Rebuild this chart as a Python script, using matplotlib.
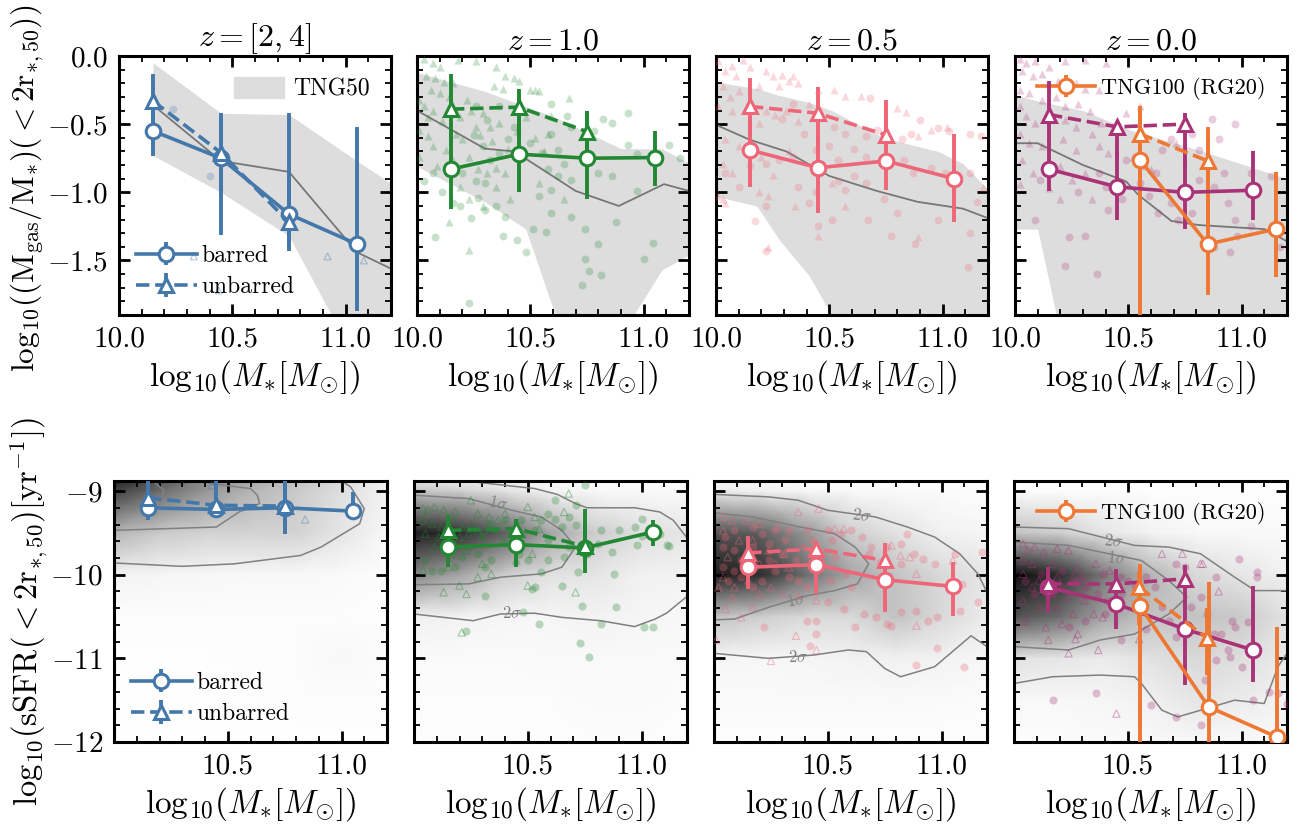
import numpy as np
import matplotlib
matplotlib.use('Agg')
import matplotlib.pyplot as plt
from matplotlib.patches import Patch

plt.rcParams['font.family'] = 'serif'
plt.rcParams['font.serif'] = ['cmr10']
plt.rcParams['mathtext.fontset'] = 'cm'
plt.rcParams['axes.formatter.use_mathtext'] = True

BLUE, GREEN, RED, PURPLE, ORANGE = '#4477AA', '#228833', '#EE6677', '#AA3377', '#EE7733'
colors = [BLUE, GREEN, RED, PURPLE]
titles = [r'$z=[2,4]$', r'$z=1.0$', r'$z=0.5$', r'$z=0.0$']

# ---------------- medians (barred / unbarred), gas fraction ----------------
bin_x = [10.15, 10.45, 10.75, 11.05]
unb_x = [10.15, 10.45, 10.75]

gas_bar_y = [[-0.55, -0.75, -1.16, -1.38], [-0.83, -0.72, -0.75, -0.745],
             [-0.69, -0.82, -0.77, -0.90], [-0.83, -0.96, -1.00, -0.985]]
gas_bar_lo = [[-0.73, -1.31, -1.43, -1.87], [-1.12, -1.00, -1.05, -0.95],
              [-0.96, -1.15, -0.98, -1.22], [-0.99, -1.20, -1.27, -1.20]]
gas_bar_hi = [[-0.38, -0.42, -0.415, -0.52], [-0.56, -0.24, -0.40, -0.55],
              [-0.40, -0.55, -0.45, -0.57], [-0.60, -0.70, -0.75, -0.70]]
gas_unb_y = [[-0.33, -0.71, -1.22], [-0.39, -0.375, -0.555],
             [-0.37, -0.42, -0.58], [-0.43, -0.52, -0.50]]
gas_unb_lo = [[-0.60, -1.00, -1.40], [-0.62, -0.61, -0.70],
              [-0.59, -0.70, -0.72], [-0.60, -0.74, -0.80]]
gas_unb_hi = [[-0.13, -0.45, -0.90], [-0.13, -0.30, -0.40],
              [-0.16, -0.23, -0.32], [-0.18, -0.49, -0.42]]

# TNG100 (RG20), z=0
rg_x = [10.55, 10.85, 11.15]
rg_unb_x = [10.55, 10.85]
rg_gas_y, rg_gas_lo, rg_gas_hi = [-0.76, -1.38, -1.27], [-1.95, -1.75, -1.62], [-0.37, -0.52, -0.85]
rg_gas_unb_y, rg_gas_unb_lo, rg_gas_unb_hi = [-0.57, -0.77], [-0.90, -1.30], [-0.40, -0.55]

# TNG50 band and median per redshift
band_x = [[10.15, 10.45, 10.75, 11.05, 11.35],
          [10.0, 10.3, 10.48, 10.61, 10.9, 11.08, 11.2],
          [10.0, 10.18, 10.28, 10.41, 10.51, 10.74, 10.98, 11.09, 11.2],
          [10.0, 10.1, 10.3, 10.52, 10.75, 10.81, 11.2]]
band_hi = [[-0.05, -0.42, -0.43, -0.77, -1.1],
           [-0.12, -0.26, -0.37, -0.45, -0.68, -0.68, -0.785],
           [-0.19, -0.24, -0.29, -0.34, -0.40, -0.60, -0.70, -0.79, -0.98],
           [-0.285, -0.33, -0.40, -0.55, -0.66, -0.69, -0.90]]
band_lo = [[-0.73, -1.0, -1.32, -2.25, -2.5],
           [-0.81, -1.07, -1.27, -1.9, -2.05, -1.57, -1.46],
           [-1.03, -1.10, -1.35, -1.61, -1.9, -2.3, -2.5, -2.5, -2.5],
           [-1.27, -1.27, -2.8, -2.8, -2.8, -2.8, -2.8]]
tng_med_x = [[10.15, 10.45, 10.75, 11.05, 11.35],
             [10.0, 10.3, 10.43, 10.7, 10.89, 11.09, 11.2],
             [10.0, 10.15, 10.31, 10.5, 10.71, 10.89, 11.09, 11.2],
             [10.0, 10.1, 10.3, 10.49, 10.545, 10.69, 10.81, 11.10, 11.2]]
tng_med_y = [[-0.36, -0.77, -0.85, -1.44, -1.68],
             [-0.40, -0.68, -0.70, -0.99, -1.10, -0.94, -0.99],
             [-0.505, -0.615, -0.70, -0.88, -0.99, -1.07, -1.12, -1.19],
             [-0.64, -0.64, -0.80, -0.92, -1.02, -1.21, -1.24, -1.27, -1.36]]

# individual galaxies, gas fraction (x, y)
gas_circ = [
    [(10.24, -0.39), (10.40, -0.88)],
    [(10.08, -1.33), (10.23, -1.81), (10.24, -1.19), (10.19, -1.10), (10.27, -1.04), (10.30, -1.13),
     (10.35, -1.10), (10.39, -1.18), (10.38, -1.32), (10.44, -1.35), (10.48, -1.44), (10.51, -1.27),
     (10.57, -1.29), (10.59, -1.15), (10.68, -1.18), (10.74, -1.27), (10.80, -1.38), (10.74, -1.49),
     (10.76, -1.58), (10.81, -1.61), (10.73, -1.68), (10.88, -1.22), (11.00, -1.49), (11.04, -1.37),
     (10.97, -0.99), (10.93, -0.42), (10.82, -0.46), (10.78, -0.55), (10.86, -0.49), (10.93, -0.65),
     (10.97, -0.72), (11.11, -0.65), (11.16, -0.75), (10.59, -0.35), (10.66, -0.44), (10.68, -0.52),
     (10.59, -0.57), (10.50, -0.64), (10.55, -0.71), (10.62, -0.69), (10.65, -0.79), (10.58, -0.83),
     (10.62, -0.88), (10.68, -0.91), (10.80, -0.86), (10.86, -0.88), (10.54, -1.03), (10.59, -0.98),
     (10.32, -0.76), (10.36, -0.71), (10.29, -0.66), (10.40, -0.61), (10.43, -0.52), (10.26, -0.92),
     (10.30, -0.93), (10.11, -1.00), (10.16, -1.08), (10.07, -0.86), (10.03, -0.92), (10.20, -0.86),
     (10.25, -0.58), (10.31, -0.47), (10.26, -0.37), (10.36, -0.37)],
    [(10.29, -0.46), (10.34, -0.35), (10.39, -0.57), (10.52, -0.52), (10.57, -0.57), (10.66, -0.59),
     (10.68, -0.31), (10.71, -0.54), (10.82, -0.61), (10.86, -0.57), (10.90, -0.47), (10.98, -0.53),
     (11.03, -0.55), (11.12, -0.57), (11.17, -0.59), (10.61, -0.68), (10.66, -0.74), (10.54, -0.76),
     (10.50, -0.66), (10.44, -0.69), (10.34, -0.74), (10.28, -0.76), (10.22, -0.79), (10.15, -0.81),
     (10.10, -0.96), (10.04, -0.86), (10.54, -0.92), (10.57, -0.98), (10.66, -0.93), (10.61, -0.88),
     (10.83, -0.76), (10.87, -0.86), (10.95, -0.82), (11.01, -0.86), (11.12, -0.86), (11.15, -1.07),
     (10.98, -1.20), (11.12, -1.30), (11.11, -1.55), (10.88, -1.38), (10.77, -1.32), (10.67, -1.20),
     (10.51, -1.20), (10.45, -1.25), (10.41, -1.08), (10.22, -1.10), (10.17, -1.21), (10.22, -1.43),
     (10.36, -0.96), (10.44, -1.00), (10.74, -1.05), (10.80, -1.15)],
    [(10.09, -1.20), (10.24, -1.33), (10.31, -1.32), (10.36, -1.60), (10.22, -1.54), (10.41, -1.13),
     (10.47, -1.05), (10.55, -0.93), (10.62, -0.86), (10.65, -0.69), (10.69, -0.61), (10.78, -0.57),
     (10.87, -0.46), (10.97, -0.50), (10.90, -0.61), (10.81, -0.69), (10.59, -1.03), (10.69, -1.08),
     (10.63, -1.15), (10.72, -1.20), (10.78, -1.15), (10.94, -1.08), (10.88, -0.96), (10.97, -1.20),
     (11.04, -1.25), (10.98, -1.32), (10.88, -1.40), (10.95, -1.44), (10.92, -0.86), (11.04, -0.86),
     (11.13, -0.88), (11.17, -1.40), (10.11, -0.91), (10.28, -1.00), (10.40, -0.96), (10.49, -0.76),
     (10.57, -0.81), (10.37, -0.86), (10.81, -0.91)],
]
gas_tri = [
    [(10.33, -1.47), (10.44, -1.72), (10.92, -1.47), (11.08, -1.50)],
    [(10.03, -0.02), (10.07, -0.05), (10.10, -0.08), (10.18, -0.03), (10.26, -0.04), (10.35, -0.08),
     (10.39, -0.15), (10.43, -0.16), (10.45, -0.18), (10.04, -0.15), (10.08, -0.16), (10.12, -0.19),
     (10.16, -0.20), (10.06, -0.25), (10.10, -0.27), (10.14, -0.30), (10.01, -0.32), (10.03, -0.37),
     (10.07, -0.40), (10.22, -0.32), (10.24, -0.40), (10.34, -0.22), (10.38, -0.24), (10.50, -0.25),
     (10.52, -0.25), (10.54, -0.26), (10.29, -0.42), (10.32, -0.52), (10.36, -0.49), (10.26, -0.52),
     (10.17, -0.57), (10.20, -0.61), (10.13, -0.69), (10.16, -0.76), (10.23, -0.74), (10.27, -0.83),
     (10.31, -0.86), (10.35, -0.82), (10.39, -0.86), (10.54, -0.93), (10.67, -0.31), (10.59, -0.44),
     (10.58, -0.57), (10.19, -0.96), (10.23, -1.05), (10.14, -1.22), (10.23, -1.42), (10.29, -1.10),
     (10.65, -1.05), (10.05, -0.59), (10.01, -0.54), (10.07, -0.66), (10.09, -0.81), (10.01, -0.74),
     (10.35, -0.96), (10.41, -1.05), (10.05, -0.45), (10.11, -0.48), (10.19, -0.45), (10.28, -0.58),
     (10.33, -0.62), (10.40, -0.68), (10.44, -0.55), (10.48, -0.45), (10.52, -0.60), (10.56, -0.70)],
    [(10.01, -0.04), (10.07, -0.07), (10.12, -0.03), (10.15, -0.08), (10.22, -0.11), (10.25, -0.15),
     (10.29, -0.14), (10.32, -0.18), (10.34, -0.15), (10.04, -0.11), (10.09, -0.15), (10.03, -0.22),
     (10.06, -0.30), (10.10, -0.26), (10.19, -0.22), (10.28, -0.22), (10.36, -0.20), (10.01, -0.37),
     (10.07, -0.40), (10.22, -0.40), (10.26, -0.43), (10.31, -0.40), (10.36, -0.48), (10.41, -0.35),
     (10.45, -0.25), (10.52, -0.25), (10.57, -0.29), (10.64, -0.29), (10.80, -0.38), (10.84, -0.41),
     (10.95, -0.54), (10.89, -0.59), (11.02, -0.52), (10.19, -0.49), (10.04, -0.61), (10.10, -0.66),
     (10.03, -0.79), (10.07, -0.86), (10.20, -0.74), (10.32, -0.70), (10.25, -0.87), (10.19, -1.00),
     (10.23, -1.03), (10.01, -1.03), (10.04, -1.08), (10.03, -1.05), (10.35, -1.10), (10.51, -0.93),
     (10.57, -1.10), (10.45, -1.32), (10.23, -1.40), (10.89, -1.33), (11.18, -0.96)],
    [(10.02, -0.02), (10.05, -0.05), (10.09, -0.04), (10.15, -0.08), (10.22, -0.04), (10.31, -0.03),
     (10.40, -0.05), (10.03, -0.11), (10.08, -0.15), (10.12, -0.13), (10.19, -0.18), (10.27, -0.20),
     (10.31, -0.24), (10.37, -0.25), (10.02, -0.25), (10.06, -0.27), (10.12, -0.32), (10.18, -0.30),
     (10.22, -0.37), (10.28, -0.35), (10.33, -0.40), (10.02, -0.37), (10.05, -0.44), (10.09, -0.49),
     (10.22, -0.47), (10.27, -0.52), (10.34, -0.57), (10.38, -0.49), (10.49, -0.42), (10.55, -0.37),
     (10.02, -0.57), (10.06, -0.64), (10.12, -0.66), (10.21, -0.61), (10.27, -0.69), (10.37, -0.66),
     (10.41, -0.71), (10.52, -0.74), (10.03, -0.76), (10.08, -0.86), (10.20, -0.81), (10.25, -0.91),
     (10.31, -0.86), (10.02, -0.94), (10.20, -1.05), (10.15, -0.97), (10.60, -0.83), (10.71, -0.64),
     (10.34, -1.05)],
]

# ---------------- medians, sSFR ----------------
sfr_bar_y = [[-9.20, -9.22, -9.20, -9.24], [-9.67, -9.64, -9.68, -9.49],
             [-9.91, -9.88, -10.06, -10.14], [-10.15, -10.35, -10.65, -10.90]]
sfr_bar_lo = [[-9.35, -9.30, -9.51, -9.35], [-9.91, -9.91, -9.98, -9.66],
              [-10.17, -10.23, -10.45, -10.49], [-10.45, -10.65, -11.32, -11.28]]
sfr_bar_hi = [[-8.95, -8.85, -8.85, -9.01], [-9.45, -9.35, -9.21, -9.35],
              [-9.70, -9.65, -9.80, -9.85], [-9.95, -10.10, -10.30, -10.13]]
sfr_unb_y = [[-9.08, -9.17, -9.18], [-9.47, -9.45, -9.66],
             [-9.74, -9.69, -9.83], [-10.11, -10.11, -10.05]]
sfr_unb_lo = [[-9.25, -9.28, -9.40], [-9.70, -9.62, -9.85],
              [-9.95, -9.90, -10.00], [-10.30, -10.30, -10.40]]
sfr_unb_hi = [[-8.85, -8.85, -8.85], [-9.29, -9.33, -9.40],
              [-9.54, -9.60, -9.62], [-9.91, -9.93, -9.88]]
rg_sfr_x = [10.555, 10.855, 11.155]
rg_sfr_y, rg_sfr_lo, rg_sfr_hi = [-10.38, -11.58, -11.94], [-12.5, -12.5, -12.5], [-9.87, -10.09, -10.63]
rg_sfr_unb_y, rg_sfr_unb_lo, rg_sfr_unb_hi = [-10.15, -10.76], [-10.60, -11.20], [-9.95, -10.40]

# TNG50 population density (grey shading) on a coarse grid
dens_x = [10.0, 10.2, 10.4, 10.6, 10.8, 11.0, 11.2]
dens_y = [-12.0, -11.5, -11.0, -10.5, -10.0, -9.5, -9.0, -8.85]
dens = [
    [[0.01, 0.01, 0.01, 0.01, 0.01, 0.01, 0.01],
     [0.01, 0.01, 0.01, 0.01, 0.02, 0.03, 0.02],
     [0.01, 0.01, 0.01, 0.02, 0.03, 0.06, 0.03],
     [0.03, 0.03, 0.03, 0.03, 0.03, 0.03, 0.02],
     [0.10, 0.08, 0.07, 0.06, 0.06, 0.04, 0.02],
     [0.40, 0.32, 0.28, 0.28, 0.28, 0.18, 0.06],
     [0.80, 0.65, 0.50, 0.40, 0.32, 0.22, 0.10],
     [0.90, 0.75, 0.55, 0.45, 0.35, 0.25, 0.10]],
    [[0.02, 0.02, 0.02, 0.02, 0.03, 0.03, 0.02],
     [0.03, 0.03, 0.03, 0.03, 0.04, 0.04, 0.03],
     [0.04, 0.04, 0.04, 0.05, 0.05, 0.05, 0.04],
     [0.12, 0.10, 0.08, 0.08, 0.10, 0.08, 0.06],
     [0.55, 0.45, 0.30, 0.20, 0.18, 0.12, 0.10],
     [0.90, 0.85, 0.70, 0.45, 0.30, 0.22, 0.18],
     [0.35, 0.30, 0.20, 0.10, 0.06, 0.05, 0.04],
     [0.15, 0.12, 0.08, 0.05, 0.03, 0.02, 0.02]],
    [[0.02, 0.02, 0.02, 0.02, 0.02, 0.02, 0.02],
     [0.04, 0.04, 0.05, 0.05, 0.05, 0.04, 0.03],
     [0.08, 0.07, 0.08, 0.10, 0.12, 0.10, 0.06],
     [0.35, 0.30, 0.25, 0.25, 0.35, 0.25, 0.15],
     [0.90, 0.85, 0.65, 0.45, 0.35, 0.25, 0.18],
     [0.75, 0.70, 0.50, 0.30, 0.20, 0.12, 0.08],
     [0.15, 0.12, 0.08, 0.05, 0.04, 0.03, 0.02],
     [0.05, 0.04, 0.03, 0.02, 0.02, 0.02, 0.02]],
    [[0.03, 0.03, 0.04, 0.05, 0.06, 0.05, 0.04],
     [0.06, 0.06, 0.08, 0.12, 0.18, 0.15, 0.10],
     [0.20, 0.18, 0.15, 0.20, 0.25, 0.22, 0.15],
     [0.75, 0.65, 0.45, 0.35, 0.35, 0.32, 0.20],
     [0.95, 0.85, 0.60, 0.40, 0.25, 0.18, 0.12],
     [0.35, 0.30, 0.18, 0.10, 0.06, 0.05, 0.04],
     [0.03, 0.03, 0.03, 0.02, 0.02, 0.02, 0.02],
     [0.02, 0.02, 0.02, 0.02, 0.02, 0.02, 0.02]],
]

# 1 and 2 sigma contour lines of the population
contours = [
    [([10.0, 10.30, 10.53, 10.82, 10.91, 11.08, 11.10, 11.04, 11.0],
      [-9.86, -9.90, -9.87, -9.77, -9.67, -9.39, -9.21, -8.95, -8.88]),
     ([10.0, 10.45, 10.55, 10.64, 10.63, 10.60, 10.42, 10.38],
      [-9.47, -9.43, -9.25, -9.15, -9.05, -8.97, -8.91, -8.88]),
     ([10.17, 10.22, 10.20], [-8.88, -8.99, -9.17])],
    [([10.26, 10.53, 10.63, 10.71, 10.76, 10.97, 11.08, 11.14, 11.2],
      [-8.89, -8.97, -9.04, -9.15, -9.20, -9.20, -9.25, -9.35, -9.56]),
     ([10.0, 10.26, 10.38, 10.53, 10.65, 10.82, 10.97, 11.06, 11.11, 11.2],
      [-10.47, -10.55, -10.47, -10.46, -10.51, -10.55, -10.62, -10.53, -10.46, -10.26]),
     ([10.0, 10.24, 10.43, 10.56, 10.65, 10.71, 10.65, 10.56, 10.38, 10.24, 10.0],
      [-9.05, -9.09, -9.23, -9.31, -9.47, -9.67, -9.91, -9.99, -10.03, -10.11, -10.12])],
    [([10.0, 10.24, 10.37, 10.50, 10.71, 10.85, 10.97, 11.08, 11.16, 11.2],
      [-9.04, -9.07, -9.11, -9.23, -9.31, -9.43, -9.55, -9.75, -9.99, -10.21]),
     ([10.0, 10.24, 10.44, 10.59, 10.67, 10.75, 10.82, 10.97, 11.13, 11.2],
      [-10.94, -11.0, -10.96, -10.90, -10.92, -11.12, -11.22, -11.10, -10.73, -10.86]),
     ([10.0, 10.17, 10.38, 10.53, 10.62, 10.68, 10.63, 10.53, 10.41, 10.24, 10.09, 10.0],
      [-9.26, -9.31, -9.43, -9.51, -9.67, -9.87, -10.11, -10.19, -10.25, -10.39, -10.53, -10.54])],
    [([10.0, 10.24, 10.53, 10.68, 10.82, 10.97, 11.06, 11.2],
      [-9.43, -9.45, -9.65, -9.67, -9.75, -10.03, -10.19, -10.19]),
     ([10.0, 10.17, 10.38, 10.53, 10.56, 10.65, 10.72, 10.82, 10.97, 11.10, 11.16, 11.2],
      [-11.30, -11.22, -11.20, -11.22, -11.30, -11.62, -11.70, -11.62, -11.50, -11.54, -11.10, -10.94]),
     ([10.0, 10.24, 10.56, 10.68, 10.76, 10.68, 10.53, 10.38, 10.24, 10.0],
      [-9.61, -9.65, -9.83, -10.07, -10.27, -10.47, -10.71, -10.78, -10.90, -10.86])],
]
contour_labels = [
    [],
    [(10.37, -9.15, r'$1\sigma$', -12), (10.43, -10.46, r'$2\sigma$', 0)],
    [(10.65, -9.29, r'$2\sigma$', -8), (10.36, -10.30, r'$1\sigma$', 12), (10.37, -10.98, r'$2\sigma$', 0)],
    [(10.44, -9.60, r'$2\sigma$', -6), (10.45, -9.80, r'$1\sigma$', -6)],
]

# individual galaxies, sSFR (x, y)
sfr_circ = [
    [],
    [(10.75, -8.93), (10.71, -9.17), (10.68, -9.31), (10.59, -9.27), (10.62, -9.33), (10.56, -9.35),
     (10.65, -9.43), (10.71, -9.41), (10.82, -9.47), (10.90, -9.47), (10.97, -9.43), (11.00, -9.33),
     (10.98, -9.65), (11.11, -9.65), (11.08, -9.51), (10.88, -9.99), (10.87, -9.73), (10.81, -9.63),
     (10.76, -9.75), (10.66, -9.79), (10.68, -9.67), (10.72, -9.97), (10.65, -10.13), (10.53, -10.15),
     (10.52, -10.17), (10.56, -9.97), (10.59, -9.83), (10.50, -9.83), (10.46, -9.75), (10.43, -9.67),
     (10.39, -9.59), (10.36, -9.47), (10.33, -9.39), (10.30, -9.55), (10.24, -9.67), (10.21, -9.79),
     (10.18, -9.91), (10.12, -9.95), (10.08, -9.95), (10.05, -9.83), (10.28, -9.75), (10.31, -9.91),
     (10.34, -9.83), (10.40, -9.35), (10.47, -9.35), (10.53, -9.47), (10.59, -9.59), (10.31, -10.25),
     (10.23, -10.67), (10.48, -10.45), (10.55, -10.59), (10.74, -10.37), (10.82, -10.59), (10.89, -10.39),
     (10.73, -10.82), (10.77, -10.98), (11.01, -10.62), (11.05, -10.62), (11.00, -9.54), (11.12, -9.66),
     (10.62, -9.11)],
    [(10.22, -10.63), (10.41, -10.55), (10.45, -10.55), (10.45, -10.71), (10.42, -10.85), (10.57, -10.41),
     (10.62, -10.63), (10.66, -10.47), (10.71, -10.51), (10.76, -10.59), (10.78, -10.61), (10.82, -10.45),
     (10.89, -10.43), (10.94, -10.55), (10.98, -10.51), (10.89, -11.08), (10.98, -10.88), (11.10, -11.10),
     (11.08, -10.43), (11.16, -10.33), (11.09, -10.11), (11.18, -9.73), (11.06, -9.75), (10.97, -9.87),
     (10.92, -9.81), (10.88, -9.75), (10.82, -9.63), (10.85, -9.51), (10.76, -9.67), (10.69, -9.67),
     (10.68, -9.75), (10.65, -9.55), (10.60, -9.47), (10.56, -9.51), (10.52, -9.59), (10.50, -9.47),
     (10.53, -9.79), (10.58, -9.99), (10.51, -10.07), (10.60, -10.15), (10.50, -10.33), (10.41, -10.15),
     (10.37, -10.07), (10.33, -10.03), (10.27, -9.95), (10.21, -10.07), (10.17, -10.15), (10.12, -10.03),
     (10.09, -9.95), (10.04, -9.91), (10.06, -10.07), (10.12, -9.83), (10.18, -9.91), (10.24, -9.83),
     (10.30, -9.75), (10.36, -9.83), (10.39, -9.67), (10.31, -9.59), (10.27, -9.47), (10.21, -9.51),
     (10.17, -9.43), (10.09, -9.47), (10.05, -9.55), (10.04, -9.67), (10.09, -9.71), (10.17, -9.67),
     (10.24, -9.63), (10.33, -9.47), (10.41, -9.47), (10.43, -9.59), (10.73, -9.85), (10.82, -9.87)],
    [(10.17, -11.50), (10.36, -11.42), (10.47, -10.78), (10.58, -10.65), (10.60, -11.56), (10.71, -11.70),
     (10.82, -11.80), (10.84, -11.26), (10.89, -11.02), (10.91, -10.71), (10.94, -10.90), (10.95, -10.98),
     (11.00, -11.10), (10.97, -10.63), (10.96, -10.55), (11.03, -10.57), (11.07, -9.97), (11.07, -10.03),
     (10.99, -9.81), (10.89, -10.03), (10.82, -10.27), (10.78, -10.39), (10.85, -10.47), (10.88, -10.71),
     (10.76, -10.71), (10.71, -10.75), (10.68, -10.55), (10.65, -10.39), (10.62, -10.15), (10.71, -9.87),
     (10.75, -9.91), (10.58, -10.03), (10.53, -10.15), (10.50, -10.07), (10.47, -10.23), (10.41, -10.31),
     (10.37, -10.23), (10.31, -10.15), (10.27, -10.07), (10.21, -10.15), (10.17, -10.23), (10.09, -10.23),
     (10.05, -10.07), (10.12, -9.99), (10.21, -9.95), (10.30, -10.03), (10.39, -9.99), (10.47, -10.03),
     (10.31, -10.55), (10.24, -10.63), (10.40, -10.47), (11.16, -11.42), (11.20, -11.54), (11.05, -11.50),
     (11.12, -11.40)],
]
sfr_tri = [
    [(10.84, -9.34), (10.43, -8.93)],
    [(10.04, -9.21), (10.06, -9.23), (10.09, -9.19), (10.13, -9.22), (10.18, -9.25), (10.25, -9.11),
     (10.28, -9.27), (10.33, -9.31), (10.37, -9.35), (10.40, -9.27), (10.04, -9.35), (10.08, -9.39),
     (10.12, -9.43), (10.17, -9.35), (10.21, -9.43), (10.25, -9.39), (10.31, -9.47), (10.05, -9.51),
     (10.11, -9.55), (10.20, -9.55), (10.24, -9.51), (10.28, -9.47), (10.09, -9.67), (10.17, -9.75),
     (10.23, -9.71), (10.30, -9.87), (10.34, -9.99), (10.28, -10.03), (10.20, -10.13), (10.13, -10.21),
     (10.23, -10.23), (10.21, -10.69), (10.50, -10.13), (10.71, -10.21), (10.50, -9.19), (10.53, -9.31),
     (10.66, -9.25), (10.68, -9.03), (10.55, -9.45), (10.52, -9.75), (10.04, -9.95), (10.15, -9.91),
     (10.45, -9.83)],
    [(10.37, -9.25), (10.46, -9.21), (10.53, -9.45), (10.57, -9.45), (10.78, -9.65), (10.82, -9.77),
     (10.86, -9.79), (10.89, -9.99), (10.89, -10.61), (11.05, -9.83), (10.45, -10.31), (10.36, -10.73),
     (10.45, -10.90), (10.25, -11.03), (10.01, -10.78), (10.30, -10.23), (10.37, -10.25), (10.12, -10.51),
     (10.17, -10.39), (10.05, -10.41), (10.04, -9.31), (10.08, -9.35), (10.14, -9.35), (10.20, -9.39),
     (10.28, -9.43), (10.04, -9.47), (10.11, -9.59), (10.17, -9.59), (10.24, -9.71), (10.31, -9.75),
     (10.06, -9.79), (10.13, -9.83), (10.20, -9.87), (10.27, -9.87), (10.33, -9.91), (10.04, -10.03),
     (10.09, -10.15), (10.15, -10.07), (10.20, -10.23), (10.25, -10.15), (10.08, -10.27), (10.02, -10.15)],
    [(10.04, -9.63), (10.06, -9.71), (10.09, -9.67), (10.13, -9.73), (10.19, -9.69), (10.24, -9.71),
     (10.04, -9.83), (10.08, -9.87), (10.17, -9.87), (10.28, -9.91), (10.36, -9.87), (10.04, -9.99),
     (10.11, -10.07), (10.19, -10.03), (10.26, -10.03), (10.08, -10.15), (10.15, -10.19), (10.24, -10.27),
     (10.31, -10.31), (10.04, -10.31), (10.11, -10.39), (10.19, -10.39), (10.26, -10.47), (10.35, -10.47),
     (10.05, -10.55), (10.14, -10.63), (10.21, -10.59), (10.28, -10.71), (10.39, -10.51), (10.15, -10.78),
     (10.24, -10.94), (10.27, -10.77), (10.37, -10.90), (10.45, -11.66), (10.74, -9.75), (10.82, -9.87),
     (10.83, -9.87), (10.90, -10.20), (10.55, -10.77), (10.42, -9.95), (10.65, -9.75)],
]


def errbar(ax, x, y, lo, hi, c, marker, ls, label=None):
    y, lo, hi = np.array(y), np.array(lo), np.array(hi)
    return ax.errorbar(x, y, yerr=[y - lo, hi - y], color=c, marker=marker, ls=ls,
                       mfc='white', mec=c, ms=10.5, mew=2.2, lw=2.6, elinewidth=2.8,
                       capsize=0, zorder=6, label=label, dash_capstyle='butt')


def style_axis(ax):
    ax.tick_params(which='both', direction='in', top=True, right=True, labelsize=21, pad=8)
    ax.tick_params(which='major', length=8, width=2.0)
    ax.tick_params(which='minor', length=4, width=1.3)
    for s in ax.spines.values():
        s.set_linewidth(2.2)


xlab = r'$\mathrm{log}_{10}(M_{*}[M_{\odot}])$'
fig = plt.figure(figsize=(13.01, 8.26), dpi=100)
W, H = 1301.0, 826.0
top_left = [119, 417, 716, 1015]
bot_left = [114, 414, 714, 1014]

for i in range(4):
    c = colors[i]
    # ---- top row: gas fraction ----
    ax = fig.add_axes([top_left[i] / W, 1 - 315 / H, 272 / W, 259 / H])
    ax.fill_between(band_x[i], band_lo[i], band_hi[i], color='#dddddd', lw=0, zorder=1)
    ax.plot(tng_med_x[i], tng_med_y[i], color='#777777', lw=1.3, zorder=2)
    pc = np.array(gas_circ[i])
    pt = np.array(gas_tri[i])
    ax.scatter(pc[:, 0], pc[:, 1], s=32, color=c, alpha=0.25, lw=0, zorder=3)
    if i == 0:
        ax.scatter(pt[:, 0], pt[:, 1], s=24, marker='^', facecolor='none', edgecolor=c,
                   alpha=0.4, lw=0.8, zorder=3)
    else:
        ax.scatter(pt[:, 0], pt[:, 1], s=34, marker='^', color=c, alpha=0.25, lw=0, zorder=3)
    hb = errbar(ax, bin_x, gas_bar_y[i], gas_bar_lo[i], gas_bar_hi[i], c, 'o', '-', 'barred')
    hu = errbar(ax, unb_x, gas_unb_y[i], gas_unb_lo[i], gas_unb_hi[i], c, '^', '--', 'unbarred')
    if i == 3:
        hr = errbar(ax, rg_x, rg_gas_y, rg_gas_lo, rg_gas_hi, ORANGE, 'o', '-', 'TNG100 (RG20)')
        errbar(ax, rg_unb_x, rg_gas_unb_y, rg_gas_unb_lo, rg_gas_unb_hi, ORANGE, '^', '--')
        ax.legend(handles=[hr], loc='upper right', fontsize=16, frameon=False,
                  handlelength=2.6, borderaxespad=0.55, handletextpad=0.3)
    if i == 0:
        leg1 = ax.legend(handles=[hb, hu], loc='lower left', fontsize=17, frameon=False,
                         handlelength=2.6, borderaxespad=0.3, handletextpad=0.2, labelspacing=0.4)
        ax.add_artist(leg1)
        ax.legend(handles=[Patch(color='#dddddd', label='TNG50')], loc='upper right',
                  fontsize=17, frameon=False, handlelength=2.1, handleheight=1.0,
                  borderaxespad=0.5, handletextpad=0.4)
        ax.set_ylabel(r'$\mathrm{log}_{10}((\mathrm{M}_{\mathrm{gas}}/\mathrm{M}_{*})(<2\mathrm{r}_{*,50}))$',
                      fontsize=22.5)
        ax.yaxis.set_label_coords(-0.27, 0.49)
    else:
        ax.tick_params(labelleft=False)
    ax.set_xlim(10.0, 11.2)
    ax.set_ylim(-1.9, 0.0)
    ax.set_xticks([10.0, 10.5, 11.0])
    ax.set_xticks(np.arange(10.0, 11.21, 0.1), minor=True)
    ax.set_yticks([0.0, -0.5, -1.0, -1.5])
    ax.set_yticks(np.arange(-1.9, 0.01, 0.1), minor=True)
    ax.set_xticklabels(['10.0', '10.5', '11.0'])
    ax.set_yticklabels([r'$0.0$', r'$-0.5$', r'$-1.0$', r'$-1.5$'])
    ax.set_title(titles[i], fontsize=23, pad=5)
    ax.set_xlabel(xlab, fontsize=24, labelpad=4)
    style_axis(ax)

    # ---- bottom row: sSFR ----
    ax = fig.add_axes([bot_left[i] / W, 1 - 742 / H, 273 / W, 261 / H])
    gx, gy = np.meshgrid(dens_x, dens_y)
    ax.pcolormesh(gx, gy, np.array(dens[i]), shading='gouraud', cmap='Greys',
                  vmin=0, vmax=1, zorder=0, rasterized=True)
    for cx, cy in contours[i]:
        ax.plot(cx, cy, color='#808080', lw=1.1, zorder=2)
    for lx, ly, txt, rot in contour_labels[i]:
        ax.text(lx, ly, txt, fontsize=12, color='#808080', rotation=rot,
                ha='center', va='center', zorder=2)
    if len(sfr_circ[i]):
        pc = np.array(sfr_circ[i])
        ax.scatter(pc[:, 0], pc[:, 1], s=34, color=c, alpha=0.3, lw=0, zorder=3)
    pt = np.array(sfr_tri[i])
    ax.scatter(pt[:, 0], pt[:, 1], s=28, marker='^', facecolor='none', edgecolor=c,
               alpha=0.4, lw=0.8, zorder=3)
    hb = errbar(ax, bin_x, sfr_bar_y[i], sfr_bar_lo[i], sfr_bar_hi[i], c, 'o', '-', 'barred')
    hu = errbar(ax, unb_x, sfr_unb_y[i], sfr_unb_lo[i], sfr_unb_hi[i], c, '^', '--', 'unbarred')
    if i == 3:
        hr = errbar(ax, rg_sfr_x, rg_sfr_y, rg_sfr_lo, rg_sfr_hi, ORANGE, 'o', '-', 'TNG100 (RG20)')
        errbar(ax, rg_unb_x, rg_sfr_unb_y, rg_sfr_unb_lo, rg_sfr_unb_hi, ORANGE, '^', '--')
        ax.legend(handles=[hr], loc='upper right', fontsize=16, frameon=False,
                  handlelength=2.6, borderaxespad=0.55, handletextpad=0.3)
    if i == 0:
        ax.legend(handles=[hb, hu], loc='lower left', fontsize=17, frameon=False,
                  handlelength=2.6, borderaxespad=0.3, handletextpad=0.2, labelspacing=0.4)
        ax.set_ylabel(r'$\mathrm{log}_{10}(\mathrm{sSFR}(<2\mathrm{r}_{*,50})[\mathrm{yr}^{-1}])$',
                      fontsize=23.5)
        ax.yaxis.set_label_coords(-0.235, 0.5)
    else:
        ax.tick_params(labelleft=False)
    ax.set_xlim(10.0, 11.2)
    ax.set_ylim(-12.0, -8.88)
    ax.set_xticks([10.5, 11.0])
    ax.set_xticks(np.arange(10.1, 11.21, 0.1), minor=True)
    ax.set_xticklabels(['10.5', '11.0'])
    ax.set_yticks([-9, -10, -11, -12])
    ax.set_yticks(np.arange(-12.0, -8.85, 0.2), minor=True)
    ax.set_yticklabels([r'$-9$', r'$-10$', r'$-11$', r'$-12$'])
    ax.set_xlabel(xlab, fontsize=24, labelpad=4)
    style_axis(ax)

fig.savefig('out.png', dpi=100)
